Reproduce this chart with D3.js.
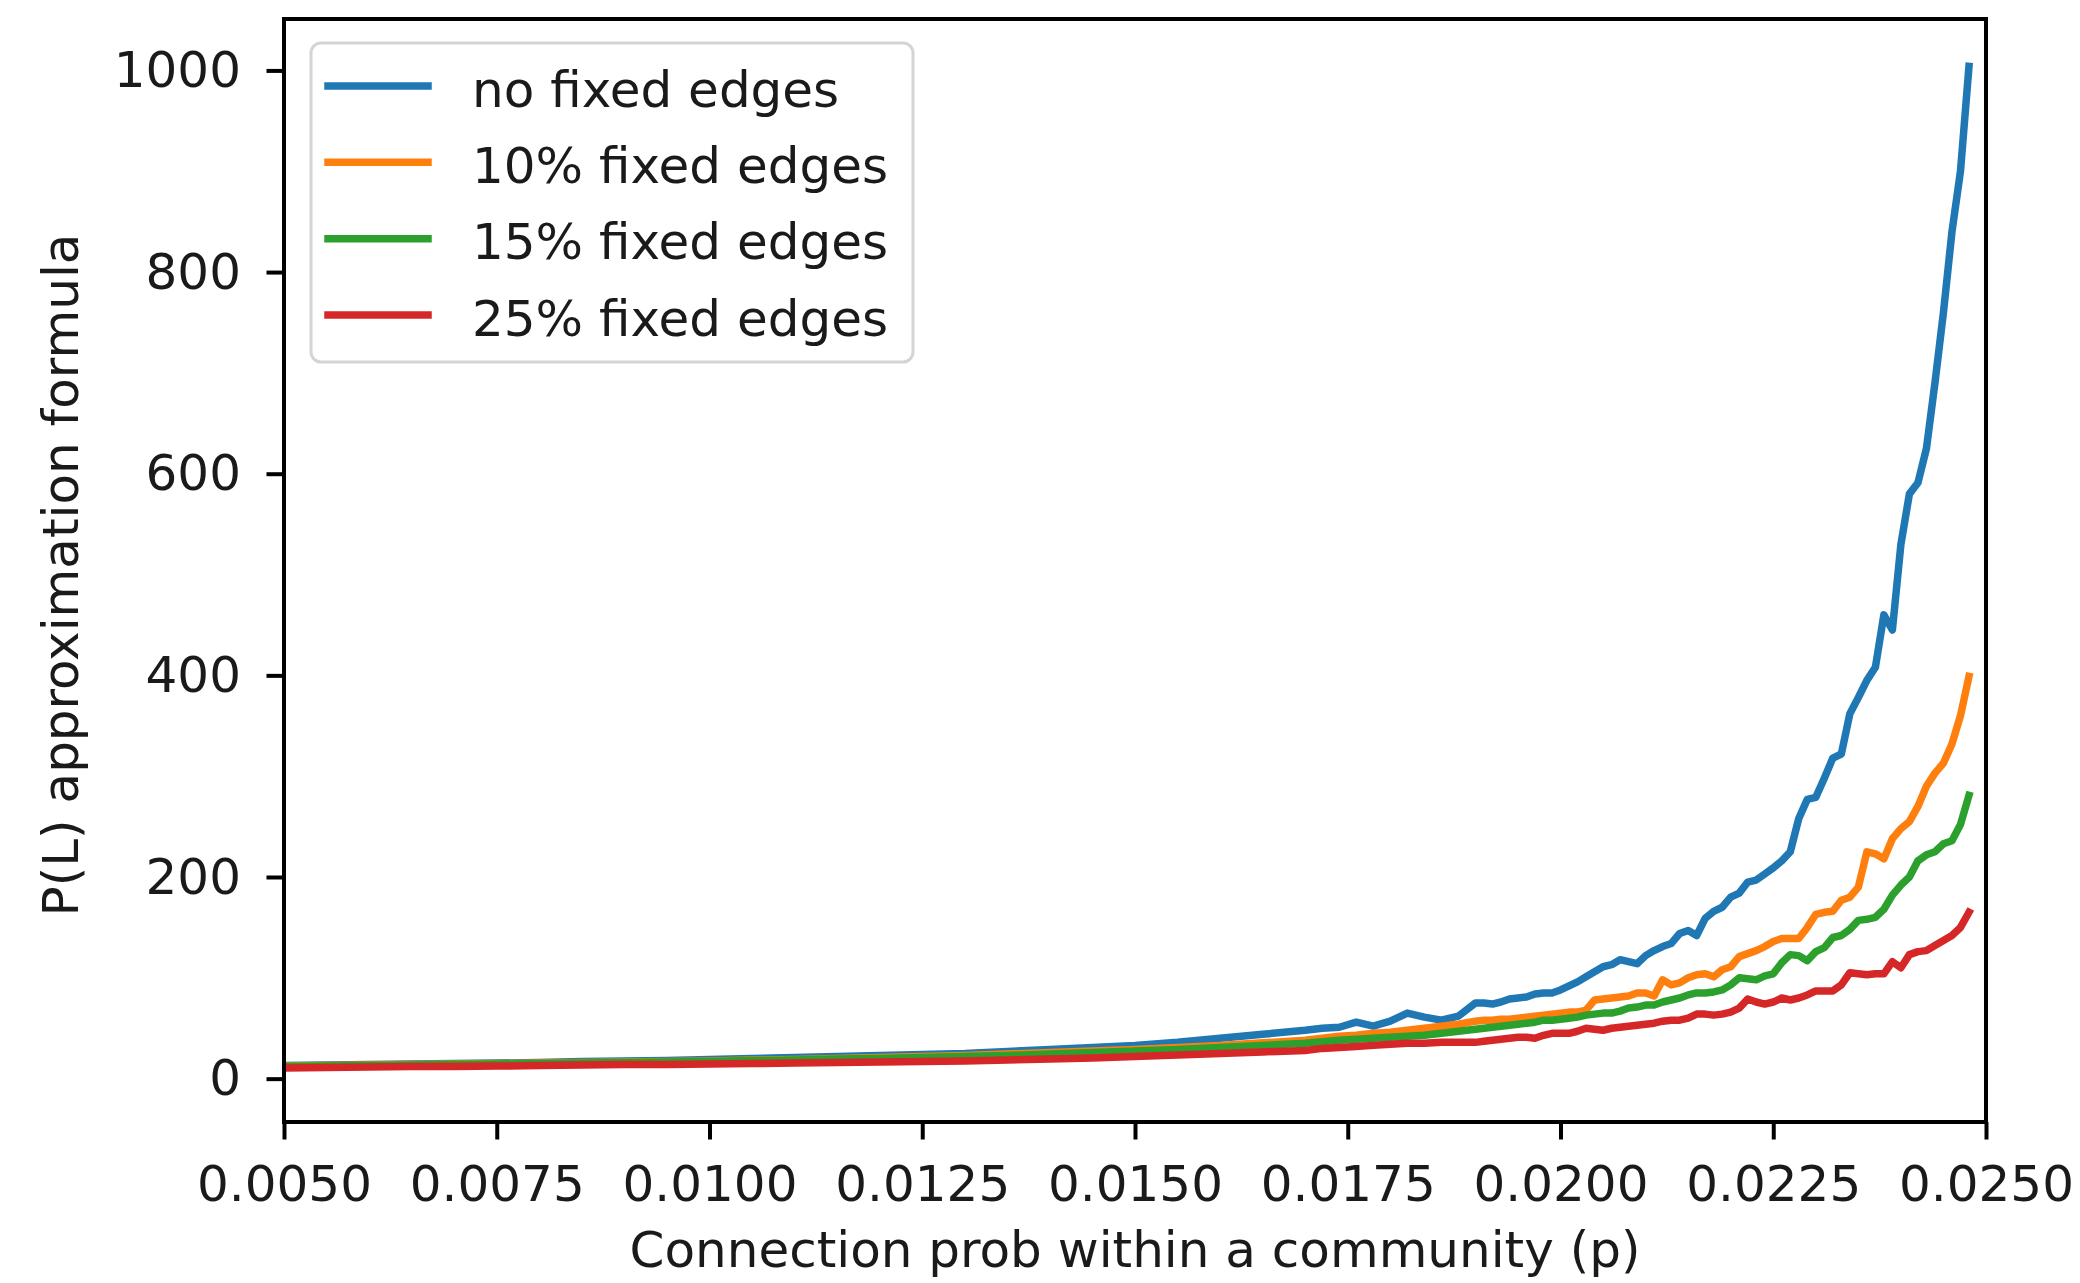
<!DOCTYPE html>
<html lang="en">
<head>
<meta charset="utf-8">
<title>P(L) approximation formula</title>
<script src="https://d3js.org/d3.v7.min.js"></script>
<style>
  body { margin: 0; background: #fff; }
  svg text { font-family: "DejaVu Sans", sans-serif; fill: #1a1a1a; }
  .tick line { stroke: #000; stroke-width: 4; }
  .tick text { font-size: 50px; }
</style>
</head>
<body>
<svg id="chart" width="2080" height="1283"></svg>
<script>
// x values (connection prob p)
const pValues = [
  0.0050, 0.0055, 0.0060, 0.0065, 0.0070, 0.0075, 0.0080, 0.0085, 0.0090, 0.0095,
  0.0100, 0.0105, 0.0110, 0.0115, 0.0120, 0.0125, 0.0130, 0.0135, 0.0140, 0.0145,
  0.0150, 0.0155, 0.0160, 0.0165, 0.0170,
  0.0172, 0.0174, 0.0176, 0.0178, 0.0180, 0.0182, 0.0184, 0.0186, 0.0188,
  0.0190, 0.0191, 0.0192, 0.0193, 0.0194, 0.0195, 0.0196, 0.0197, 0.0198, 0.0199,
  0.0200, 0.0201, 0.0202, 0.0203, 0.0204, 0.0205, 0.0206, 0.0207, 0.0208, 0.0209,
  0.0210, 0.0211, 0.0212, 0.0213, 0.0214, 0.0215, 0.0216, 0.0217, 0.0218, 0.0219,
  0.0220, 0.0221, 0.0222, 0.0223, 0.0224, 0.0225, 0.0226, 0.0227, 0.0228, 0.0229,
  0.0230, 0.0231, 0.0232, 0.0233, 0.0234, 0.0235, 0.0236, 0.0237, 0.0238, 0.0239,
  0.0240, 0.0241, 0.0242, 0.0243, 0.0244, 0.0245, 0.0246, 0.0247, 0.0248
];

const noFixed = [
  13, 13.5, 14, 14.5, 15, 15.5, 16, 17, 17.5, 18,
  19, 20, 21, 22, 23, 24, 25, 27, 29, 31,
  33, 36, 40, 44, 48,
  50, 51, 56, 52, 57, 65, 61, 58, 62,
  75, 75, 74, 76, 79, 80, 81, 84, 85, 85,
  88, 92, 96, 101, 106, 111, 113, 118, 116, 114,
  122, 127, 131, 134, 144, 147, 142, 159, 166, 170,
  180, 184, 195, 197, 203, 209, 216, 225, 258, 277,
  279, 298, 318, 322, 362, 378, 395, 408, 460, 445,
  530, 580, 591, 625, 690, 760, 840, 900, 1004
];

const fixed10 = [
  12.5, 13, 13.5, 14, 14.5, 15, 15.5, 16, 16.5, 17,
  17.5, 18.5, 19, 20, 21, 22, 23, 24.5, 26, 27.5,
  29, 31, 33, 35.5, 38,
  40, 42, 43, 45, 46, 48, 50, 52, 54,
  57, 58, 58, 59, 59, 60, 61, 62, 63, 64,
  65, 66, 66, 68, 78, 79, 80, 81, 82, 85,
  85, 82, 98, 93, 95, 100, 103, 104, 101, 108,
  111, 121, 124, 127, 131, 136, 139, 139, 139, 150,
  163, 165, 166, 177, 180, 190, 225, 223, 218, 238,
  248, 255, 270, 290, 303, 313, 332, 360, 399
];

const fixed15 = [
  12, 12.5, 13, 13.5, 14, 14.5, 15, 15.5, 16, 16.5,
  17, 18, 18.5, 19.5, 20, 21, 22, 23, 24.5, 26,
  27.5, 29, 31, 33, 35,
  36.5, 38, 39, 40, 41, 42, 43, 45, 47,
  49, 50, 51, 52, 53, 54, 55, 56, 58, 58,
  59, 60, 61, 63, 64, 65, 65, 67, 70, 71,
  73, 73, 76, 78, 80, 83, 85, 85, 86, 88,
  93, 100, 99, 98, 102, 104, 115, 123, 122, 117,
  126, 130, 140, 142, 148, 157, 158, 160, 168, 182,
  192, 200, 216, 222, 225, 233, 236, 252, 281
];

const fixed25 = [
  10.5, 11, 11.5, 12, 12, 12.5, 13, 13.5, 14, 14,
  14.5, 15, 15.5, 16, 16.5, 17, 17.5, 18.5, 19.5, 20.5,
  22, 23.5, 25, 26.5, 28,
  30, 31, 32, 33, 34, 35, 35, 36, 36,
  36, 37, 38, 39, 40, 41, 41, 40, 43, 45,
  45, 45, 47, 50, 49, 48, 50, 51, 52, 53,
  54, 55, 57, 58, 58, 60, 64, 64, 63, 64,
  66, 70, 79, 76, 74, 76, 80, 78, 80, 83,
  87, 87, 87, 93, 105, 104, 103, 104, 104, 116,
  110, 123, 126, 127, 132, 137, 142, 150, 165
];

const seriesNames = ["no fixed edges", "10% fixed edges", "15% fixed edges", "25% fixed edges"];
const seriesColors = ["#1f77b4", "#ff7f0e", "#2ca02c", "#d62728"];
const xTicks = [0.005, 0.0075, 0.01, 0.0125, 0.015, 0.0175, 0.02, 0.0225, 0.025];
const yTicks = [0, 200, 400, 600, 800, 1000];
const xLimits = [0.005, 0.025];
const yLimits = [-43, 1051];

const svg = d3.select("#chart");
const plotLeft = 284, plotRight = 1986, plotTop = 19, plotBottom = 1122;

const x = d3.scaleLinear().domain(xLimits).range([plotLeft, plotRight]);
const y = d3.scaleLinear().domain(yLimits).range([plotBottom, plotTop]);

svg.append("rect").attr("width", 2080).attr("height", 1283).attr("fill", "#fff");

svg.append("clipPath").attr("id", "plot-clip")
  .append("rect")
  .attr("x", plotLeft).attr("y", plotTop)
  .attr("width", plotRight - plotLeft).attr("height", plotBottom - plotTop);

// lines
const series = [noFixed, fixed10, fixed15, fixed25];
const line = d3.line()
  .x((d, i) => x(pValues[i]))
  .y(d => y(d));

svg.append("g").attr("clip-path", "url(#plot-clip)")
  .selectAll("path")
  .data(series)
  .enter().append("path")
  .attr("d", line)
  .attr("fill", "none")
  .attr("stroke", (d, i) => seriesColors[i])
  .attr("stroke-width", 7.5)
  .attr("stroke-linejoin", "round")
  .attr("stroke-linecap", "square");

// axes
const xAxis = svg.append("g")
  .attr("transform", "translate(0," + plotBottom + ")")
  .call(d3.axisBottom(x).tickValues(xTicks).tickFormat(d3.format(".4f"))
    .tickSizeInner(17.5).tickSizeOuter(0).tickPadding(26));
xAxis.select(".domain").remove();

const yAxis = svg.append("g")
  .attr("transform", "translate(" + plotLeft + ",0)")
  .call(d3.axisLeft(y).tickValues(yTicks).tickFormat(d3.format("d"))
    .tickSizeInner(17.5).tickSizeOuter(0).tickPadding(25.5));
yAxis.select(".domain").remove();

svg.selectAll(".tick text").attr("font-family", "DejaVu Sans").attr("fill", "#1a1a1a");

// frame
svg.append("rect")
  .attr("x", plotLeft).attr("y", plotTop)
  .attr("width", plotRight - plotLeft).attr("height", plotBottom - plotTop)
  .attr("fill", "none")
  .attr("stroke", "#000")
  .attr("stroke-width", 4);

// axis labels
svg.append("text")
  .attr("x", (plotLeft + plotRight) / 2)
  .attr("y", 1267)
  .attr("text-anchor", "middle")
  .attr("font-size", 50)
  .text("Connection prob within a community (p)");

svg.append("text")
  .attr("transform", "translate(78,575) rotate(-90)")
  .attr("text-anchor", "middle")
  .attr("font-size", 50)
  .text("P(L) approximation formula");

// legend
const legend = svg.append("g");
legend.append("rect")
  .attr("x", 311).attr("y", 43)
  .attr("width", 602).attr("height", 319)
  .attr("rx", 10).attr("ry", 10)
  .attr("fill", "#fff").attr("fill-opacity", 0.8)
  .attr("stroke", "#d4d4d4").attr("stroke-width", 3);

const rowY = d3.scaleLinear().domain([0, 3]).range([86, 315]);
const rows = legend.selectAll(".legend-row")
  .data(seriesNames)
  .enter().append("g")
  .attr("class", "legend-row")
  .attr("transform", (d, i) => "translate(0," + rowY(i) + ")");

rows.append("line")
  .attr("x1", 328).attr("x2", 428)
  .attr("y1", 0).attr("y2", 0)
  .attr("stroke", (d, i) => seriesColors[i])
  .attr("stroke-width", 7.5)
  .attr("stroke-linecap", "square");

rows.append("text")
  .attr("x", 472)
  .attr("y", 20.5)
  .attr("font-size", 50)
  .text(d => d);
</script>
</body>
</html>
